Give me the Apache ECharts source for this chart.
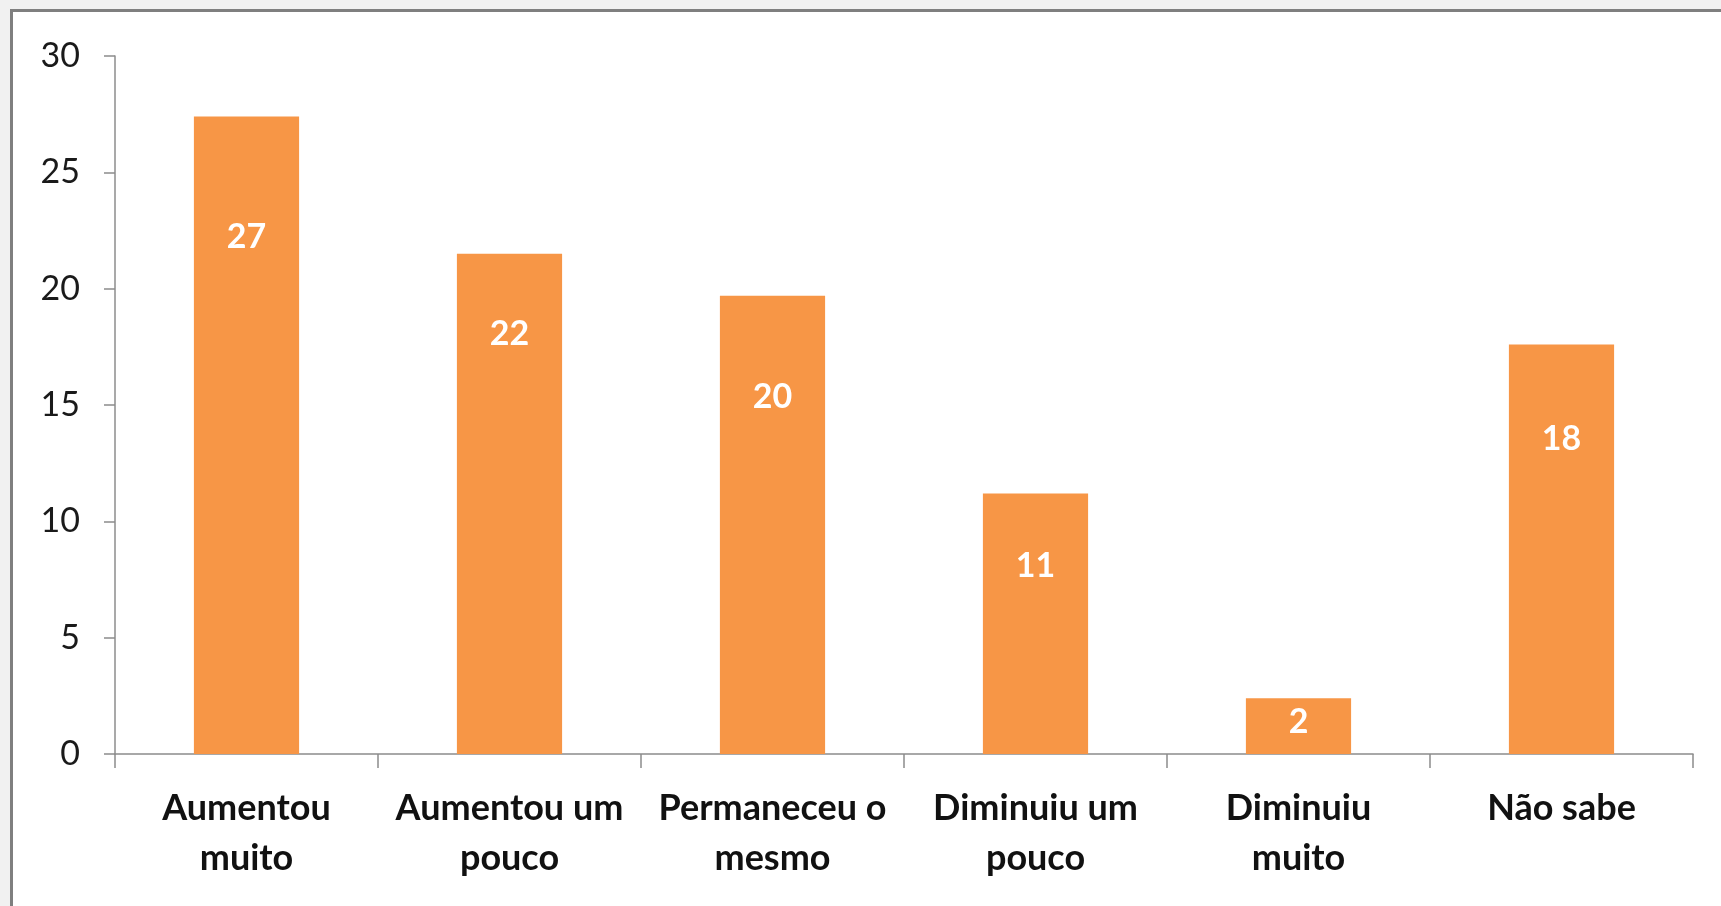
<!DOCTYPE html>
<html>
<head>
<meta charset="utf-8">
<script src="https://cdn.jsdelivr.net/npm/echarts@6/dist/echarts.min.js"></script>
<style>
  html, body { margin: 0; padding: 0; background: #f1f1f1; overflow: hidden; }
  #frame { position: absolute; left: 10px; top: 9px; width: 1740px; height: 920px;
           border: 3px solid #7f7f7f; background: #ffffff; }
  #chart { position: absolute; left: 0; top: 0; width: 1721px; height: 906px; }
</style>
</head>
<body>
<div id="frame"></div>
<div id="chart"></div>
<script>
// categorias e valores (%)
var categories = ['Aumentou\nmuito', 'Aumentou um\npouco', 'Permaneceu o\nmesmo', 'Diminuiu um\npouco', 'Diminuiu\nmuito', 'Não sabe'];
var values = [27.4, 21.5, 19.7, 11.2, 2.4, 17.6];
var yTicks = { min: 0, max: 30, interval: 5 };

// deslocamento vertical dos rótulos dentro das barras (px, a partir do topo)
var labelDrop = [121, 80, 101, 73, 24, 95];

var myChart = echarts.init(document.getElementById('chart'));

var option = {
  animation: false,
  grid: { left: 115, right: 28, top: 56, bottom: 152 },
  xAxis: {
    type: 'category',
    data: categories,
    axisLine: { lineStyle: { color: '#8c8c8c', width: 1.5 } },
    axisTick: { show: true, length: 14, lineStyle: { color: '#8c8c8c', width: 1.5 } },
    axisLabel: {
      interval: 0,
      margin: 29,
      color: '#111',
      fontFamily: 'Lato',
      fontWeight: 'bold',
      fontSize: 36,
      lineHeight: 50
    }
  },
  yAxis: {
    type: 'value',
    min: yTicks.min,
    max: yTicks.max,
    interval: yTicks.interval,
    splitLine: { show: false },
    axisLine: { show: true, lineStyle: { color: '#8c8c8c', width: 1.5 } },
    axisTick: { show: true, length: 11, lineStyle: { color: '#8c8c8c', width: 1.5 } },
    axisLabel: {
      margin: 35,
      color: '#1a1a1a',
      fontFamily: 'Lato',
      fontSize: 34
    }
  },
  series: [
    {
      type: 'bar',
      barWidth: '40%',
      itemStyle: { color: '#F79646' },
      label: {
        show: true,
        position: 'insideTop',
        color: '#ffffff',
        fontFamily: 'Lato',
        fontWeight: 'bold',
        fontSize: 34,
        formatter: function (p) { return Math.round(p.value); }
      },
      data: values.map(function (v, i) {
        return { value: v, label: { distance: labelDrop[i] - 17 } };
      })
    }
  ]
};

myChart.setOption(option);
</script>
</body>
</html>
